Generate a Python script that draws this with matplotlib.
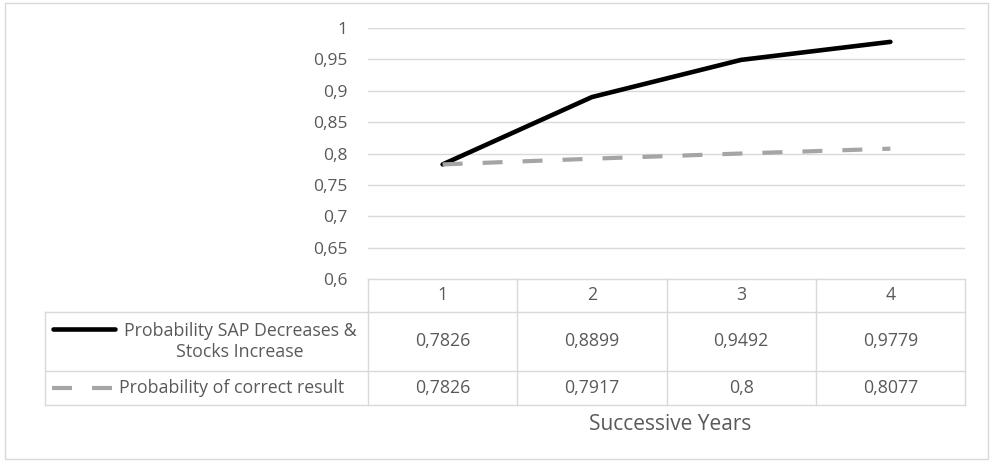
import matplotlib.pyplot as plt
from matplotlib.transforms import blended_transform_factory
from matplotlib.patches import Rectangle

plt.rcParams['font.family'] = ['Open Sans', 'DejaVu Sans']

# data
years = [1, 2, 3, 4]
sap_stocks = [0.7826, 0.8899, 0.9492, 0.9779]
correct = [0.7826, 0.7917, 0.8, 0.8077]
series_names = ['Probability SAP Decreases &\nStocks Increase', 'Probability of correct result']
yticks = [0.6, 0.65, 0.7, 0.75, 0.8, 0.85, 0.9, 0.95, 1.0]
xlabel = 'Successive Years'

W, H = 990, 462
txt = '#595959'
grid = '#d9d9d9'
fs = 12.8

def fmt(v):
    return ('%g' % v).replace('.', ',')

fig = plt.figure(figsize=(W / 100, H / 100), dpi=100)

# pixel overlay for frame and table
px = fig.add_axes([0, 0, 1, 1])
px.set_xlim(0, W)
px.set_ylim(H, 0)
px.axis('off')
px.add_patch(Rectangle((5, 3), 983, 456, fill=False, ec=grid, lw=1))

# plot area
L, R, T, B = 368, 965, 28, 279
ax = fig.add_axes([L / W, 1 - B / H, (R - L) / W, (B - T) / H])
ax.set_xlim(0.5, 4.5)
ax.set_ylim(0.6, 1.0)
ax.set_yticks(yticks)
ax.set_yticklabels([fmt(v) for v in yticks], color=txt, fontsize=12.5)
ax.set_xticks([])
ax.tick_params(axis='y', length=0, pad=15)
ax.grid(axis='y', color=grid, lw=1)
ax.set_axisbelow(True)
for s in ax.spines.values():
    s.set_visible(False)

ax.plot(years, sap_stocks, color='black', lw=3.3, solid_capstyle='round', clip_on=False)
ax.plot(years, correct, color='#a5a5a5', lw=3, dashes=(4.8, 4.8), clip_on=False)

# data table
tr = blended_transform_factory(ax.transData, px.transData)
rows = [279, 312, 371, 405]
for y in rows[1:]:
    px.plot([45, R], [y, y], color=grid, lw=1)
px.plot([L, R], [rows[0], rows[0]], color=grid, lw=1)
px.plot([45, 45], [rows[1], rows[3]], color=grid, lw=1)
for xb in [0.5, 1.5, 2.5, 3.5, 4.5]:
    ax.plot([xb, xb], [rows[0], rows[3]], color=grid, lw=1, transform=tr, clip_on=False)

hc = (rows[0] + rows[1]) / 2
r1 = (rows[1] + rows[2]) / 2
r2 = (rows[2] + rows[3]) / 2
for i, yr in enumerate(years):
    px.text(yr, hc, str(yr), transform=tr, ha='center', va='center', color=txt, fontsize=fs)
    px.text(yr, r1, fmt(sap_stocks[i]), transform=tr, ha='center', va='center', color=txt, fontsize=fs)
    px.text(yr, r2, fmt(correct[i]), transform=tr, ha='center', va='center', color=txt, fontsize=fs)

px.plot([53, 115], [329, 329], color='black', lw=3.3, solid_capstyle='round')
px.plot([52, 116], [388, 388], color='#a5a5a5', lw=3, dashes=(4.8, 4.8))
px.text(240, r1, series_names[0], ha='center', va='center', color=txt, fontsize=fs,
        multialignment='center', linespacing=1.2)
px.text(119, r2, series_names[1], ha='left', va='center', color=txt, fontsize=fs)

px.text(670, 425, xlabel, ha='center', va='center', color=txt, fontsize=15)

fig.savefig('out.png', dpi=100, facecolor='white')
